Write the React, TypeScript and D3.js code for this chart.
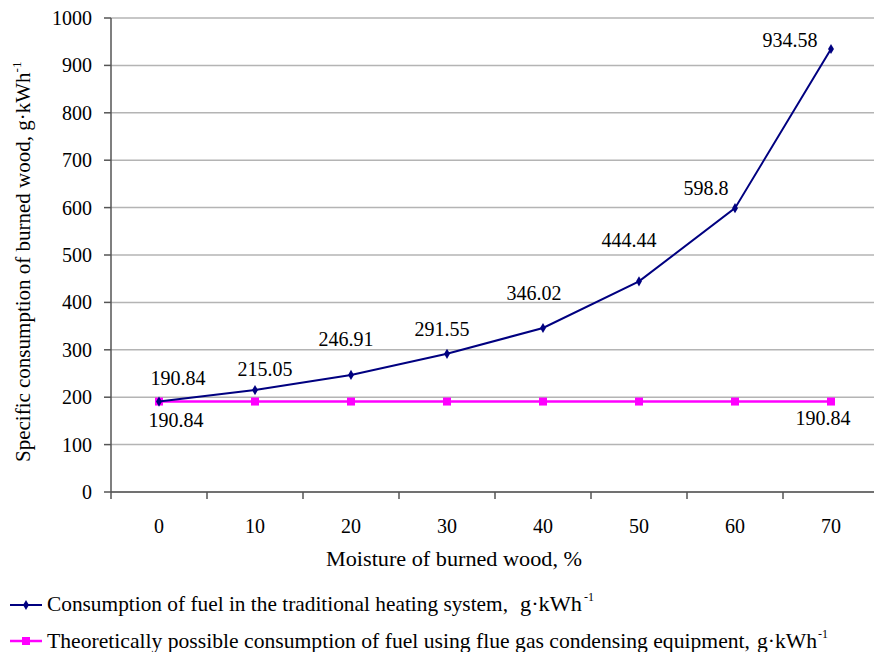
import React from "react";
import * as d3 from "d3";

const categories = ["0", "10", "20", "30", "40", "50", "60", "70"];
const traditional = [190.84, 215.05, 246.91, 291.55, 346.02, 444.44, 598.8, 934.58];
const condensing = [190.84, 190.84, 190.84, 190.84, 190.84, 190.84, 190.84, 190.84];
const yTicks = [0, 100, 200, 300, 400, 500, 600, 700, 800, 900, 1000];
const traditionalLabels = ["190.84", "215.05", "246.91", "291.55", "346.02", "444.44", "598.8", "934.58"];
const condensingLabels = ["190.84", "", "", "", "", "", "", "190.84"];

// label offsets (presentation only)
const tradOff: [number, number][] = [[19, -17], [10, -14], [-5, -29], [-5, -18], [-9, -28], [-10, -34], [-29, -13], [-41, -2]];
const condOff: [number, number][] = [[17, 25], [0, 0], [0, 0], [0, 0], [0, 0], [0, 0], [0, 0], [-8, 23]];

const W = 874, H = 652;
const FONT = "'Liberation Serif', 'Times New Roman', serif";
const NAVY = "#000080";
const MAG = "#FF00FF";
const NUM = 20;

export default function App() {
  const x = d3.scaleBand<string>().domain(categories).range([111, 879]).padding(0);
  const y = d3.scaleLinear().domain([0, 1000]).range([492, 18]);
  const cx = (c: string) => (x(c) as number) + x.bandwidth() / 2;
  const line = d3.line<[string, number]>().x(d => cx(d[0])).y(d => y(d[1]));
  const tradPts: [string, number][] = categories.map((c, i) => [c, traditional[i]]);
  const condPts: [string, number][] = categories.map((c, i) => [c, condensing[i]]);
  const diamond = d3.symbol().type(d3.symbolDiamond).size(30)() as string;
  const boundaries = categories.map(c => x(c) as number).concat([879]);

  return (
    <svg width={W} height={H} style={{ position: "absolute", left: 0, top: 0, background: "#fff" }} fontFamily={FONT}>
      {/* gridlines */}
      {yTicks.map(t => (
        <line key={"g" + t} x1={111} x2={W} y1={y(t)} y2={y(t)} stroke="#b4b4b4" strokeWidth={1.5} />
      ))}
      {/* y axis */}
      <line x1={111} x2={111} y1={y(1000)} y2={y(0)} stroke="#555" strokeWidth={1.5} />
      {yTicks.map(t => (
        <g key={"yt" + t}>
          <line x1={104} x2={111} y1={y(t)} y2={y(t)} stroke="#555" strokeWidth={1.5} />
          <text x={92} y={y(t) + 7} textAnchor="end" fontSize={NUM} fill="#000">{t}</text>
        </g>
      ))}
      {/* x axis */}
      <line x1={111} x2={W} y1={y(0)} y2={y(0)} stroke="#555" strokeWidth={1.5} />
      {boundaries.map((b, i) => (
        <line key={"xt" + i} x1={b} x2={b} y1={y(0)} y2={y(0) + 7} stroke="#555" strokeWidth={1.5} />
      ))}
      {categories.map(c => (
        <text key={"xl" + c} x={cx(c)} y={533} textAnchor="middle" fontSize={NUM}>{c}</text>
      ))}
      {/* axis titles */}
      <text x={326} y={566} fontSize={21.5} textLength={256} lengthAdjust="spacingAndGlyphs">Moisture of burned wood, %</text>
      <text transform={`translate(30,462) rotate(-90)`} textAnchor="start" fontSize={21}>
        Specific consumption of burned wood,  g·kWh<tspan dy={-9} fontSize={13}>-1</tspan>
      </text>
      {/* condensing series */}
      <path d={line(condPts) as string} fill="none" stroke={MAG} strokeWidth={2.5} />
      {condPts.map((d, i) => (
        <rect key={"cm" + i} x={cx(d[0]) - 4} y={y(d[1]) - 4} width={8} height={8} fill={MAG} />
      ))}
      {/* traditional series */}
      <path d={line(tradPts) as string} fill="none" stroke={NAVY} strokeWidth={2} />
      {tradPts.map((d, i) => (
        <path key={"tm" + i} d={diamond} transform={`translate(${cx(d[0])},${y(d[1])})`} fill={NAVY} />
      ))}
      {/* data labels */}
      {tradPts.map((d, i) => (
        <text key={"tl" + i} x={cx(d[0]) + tradOff[i][0]} y={y(d[1]) + tradOff[i][1]} textAnchor="middle" fontSize={NUM}>
          {traditionalLabels[i]}
        </text>
      ))}
      {condPts.map((d, i) => condensingLabels[i] ? (
        <text key={"cl" + i} x={cx(d[0]) + condOff[i][0]} y={y(d[1]) + condOff[i][1]} textAnchor="middle" fontSize={NUM}>
          {condensingLabels[i]}
        </text>
      ) : null)}
      {/* legend */}
      <g>
        <line x1={10} x2={42} y1={605} y2={605} stroke={NAVY} strokeWidth={2} />
        <path d={diamond} transform="translate(26,605)" fill={NAVY} />
        <text x={47} y={611} fontSize={22} textLength={461} lengthAdjust="spacingAndGlyphs">Consumption of fuel in the traditional heating system,</text>
        <text x={520} y={611} fontSize={22} textLength={62} lengthAdjust="spacingAndGlyphs">g·kWh</text>
        <text x={584} y={601} fontSize={12}>-1</text>

        <line x1={10} x2={42} y1={641} y2={641} stroke={MAG} strokeWidth={2.5} />
        <rect x={22} y={637} width={8} height={8} fill={MAG} />
        <text x={47} y={648} fontSize={22} textLength={703} lengthAdjust="spacingAndGlyphs">Theoretically possible consumption of fuel using flue gas condensing equipment,</text>
        <text x={757} y={648} fontSize={22} textLength={60} lengthAdjust="spacingAndGlyphs">g·kWh</text>
        <text x={818} y={638} fontSize={12}>-1</text>
      </g>
    </svg>
  );
}
